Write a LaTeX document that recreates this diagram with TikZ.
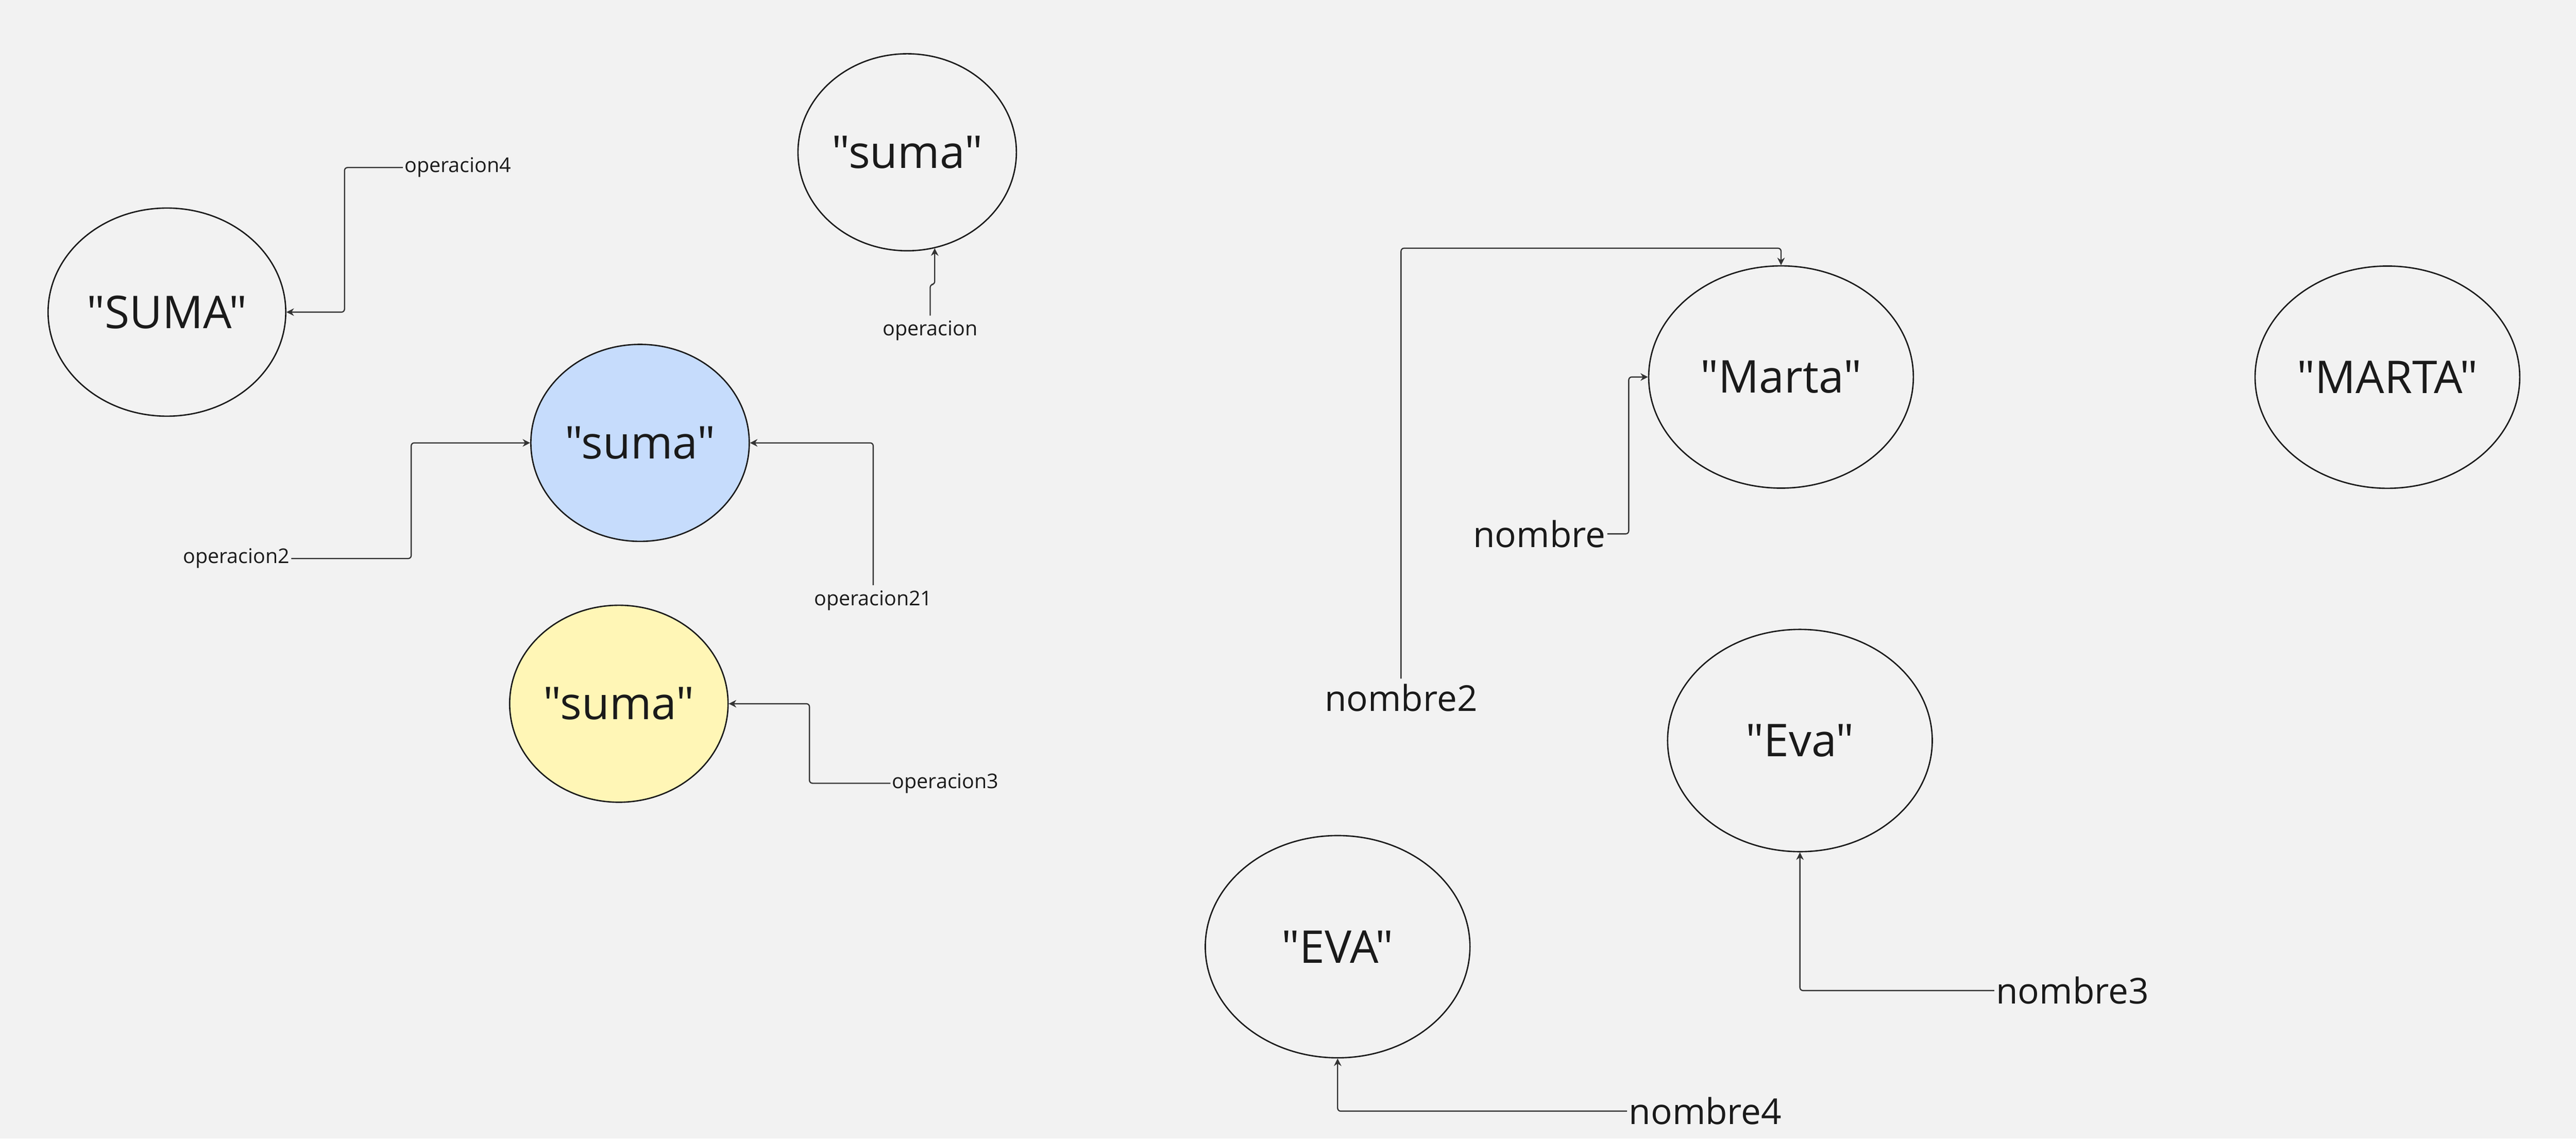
\documentclass[tikz,border=0pt]{standalone}
\usepackage{fontspec}
\setmainfont{Open Sans}[Ligatures=TeXOff]
\usetikzlibrary{shapes.geometric,arrows.meta}

\definecolor{fondo}{HTML}{F2F2F2}
\definecolor{azul}{HTML}{C6DCFC}
\definecolor{amarillo}{HTML}{FFF6B6}
\definecolor{tinta}{HTML}{1A1A1A}

\begin{document}
\begin{tikzpicture}[x=0.3836mm, y=-0.3836mm,
    str node/.style={ellipse,draw=tinta,line width=0.9pt,inner sep=0pt,text=tinta,
        font=\fontsize{30}{34}\selectfont},
    small str/.style={str node,minimum width=51mm,minimum height=46mm},
    big str/.style={str node,minimum width=61.8mm,minimum height=51.9mm},
    var node/.style={text=tinta,inner xsep=1pt,font=\fontsize{13.5}{16}\selectfont},
    big var/.style={var node,font=\fontsize{23.7}{28}\selectfont},
    conn/.style={draw=black!80,line width=0.8pt,rounded corners=2pt,
        -{Stealth[length=5pt,width=5pt]}}]

\fill[fondo] (0,0) rectangle (1568,693.15);

\node[str node,minimum width=55.5mm,minimum height=48.6mm] (sumaU) at (101.6,190) {"SUMA"};
\node[small str] (top) at (552.2,92.7) {"suma"};
\node[small str,fill=azul] (blue) at (389.6,269.6) {"suma"};
\node[small str,fill=amarillo] (yellow) at (376.7,428.4) {"suma"};
\node[big str] (marta) at (1084.1,229.5) {"Marta"};
\node[big str] (martaU) at (1453.2,229.6) {"MARTA"};
\node[big str] (eva) at (1095.6,450.8) {"Eva"};
\node[big str] (evaU) at (814.2,576.3) {"EVA"};

\node[var node] (op4) at (278.7,102) {operacion4};
\node[var node] (op) at (566.2,201.4) {operacion};
\node[var node] (op2) at (143.8,340) {operacion2};
\node[var node] (op21) at (531.5,365.5) {operacion21};
\node[var node] (op3) at (575.5,476.8) {operacion3};
\node[big var] (nombre) at (937,325) {nombre};
\node[big var] (nombre2) at (852.8,424.7) {nombre2};
\node[big var] (nombre3) at (1261.5,603) {nombre3};
\node[big var] (nombre4) at (1038,676.4) {nombre4};

\draw[conn] (op4.west) -| (209.7,150) |- (sumaU.east);
\draw[conn] (op.north) -- ++(0,-19) -| (top.-74);
\draw[conn] (op2.east) -| (250.3,300) |- (blue.west);
\draw[conn] (op21.north) |- (blue.east);
\draw[conn] (op3.west) -| (492.7,450) |- (yellow.east);

\draw[conn] (nombre.east) -| (991.4,280) |- (marta.west);
\draw[conn] (nombre2.north) |- (1000,151.1) -| (marta.north);
\draw[conn] (nombre3.west) -| (eva.south);
\draw[conn] (nombre4.west) -| (evaU.south);

\end{tikzpicture}
\end{document}
